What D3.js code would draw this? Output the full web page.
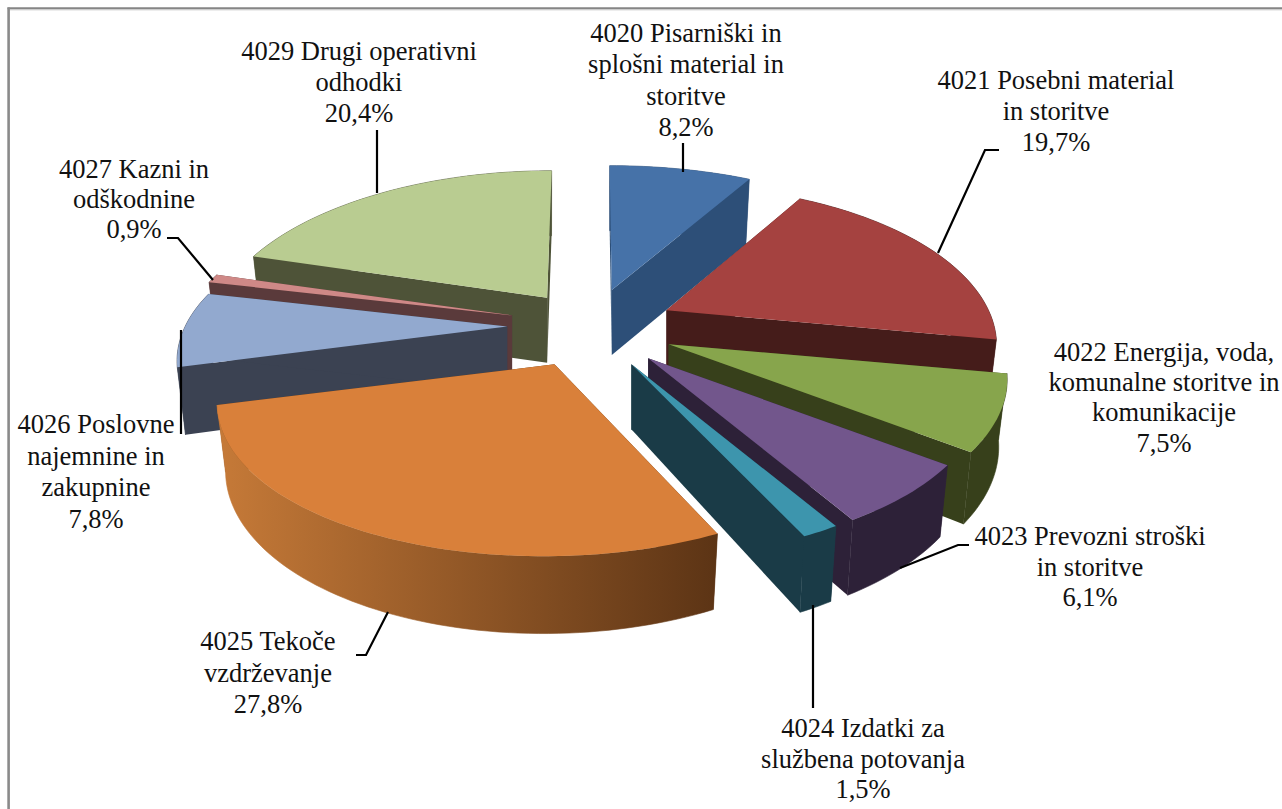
<!DOCTYPE html>
<html><head><meta charset="utf-8">
<script src="https://cdn.jsdelivr.net/npm/d3@7"></script>
<style>html,body{margin:0;padding:0;background:#fff;overflow:hidden}svg{display:block}</style>
</head><body><svg id="c" width="1282" height="809"></svg>
<script>
const codes=["4020","4021","4022","4023","4024","4025","4026","4027","4029"];
const labelLines=[
 ["4020 Pisarniški in","splošni material in","storitve"],
 ["4021 Posebni material","in storitve"],
 ["4022 Energija, voda,","komunalne storitve in","komunikacije"],
 ["4023 Prevozni stroški","in storitve"],
 ["4024 Izdatki za","službena potovanja"],
 ["4025 Tekoče","vzdrževanje"],
 ["4026 Poslovne","najemnine in","zakupnine"],
 ["4027 Kazni in","odškodnine"],
 ["4029 Drugi operativni","odhodki"]];
const shares=[8.2,19.7,7.5,6.1,1.5,27.8,7.8,0.9,20.4];
const topColors=["#4672a8","#a54240","#87a54c","#72568c","#3d95ad","#d9803a","#92a9cf","#cf8987","#b9cc91"];
const wallColors=["#2d4f78","#451c1a","#37401b","#2d2138","#1a3b47","#5f3616","#3b4252","#5a3a3b","#4e5338"];
const rimShades=[["#2d4f78","#2d4f78"],["#451c1a","#451c1a"],["#37401b","#37401b"],["#2d2138","#2d2138"],["#1a3b47","#1a3b47"],["#c67a38","#5c3415"],["#3b4252","#3b4252"],["#5a3a3b","#5a3a3b"],["#4e5338","#4e5338"]];
const pull=[0.25,0.25,0.27,0.27,0.27,0.27,0.25,0.25,0.25];
const drawOrder=[0,8,1,7,6,2,3,4,5];
const shiftX=[2,4,-4,-3,-2,4,-1,0,4];
const shiftY=[0,1,2,1,1,0,1,0,2];
const lean=[12,0,0,0,0,-40,0,0,-25];
const radiusScale=[1.03,0.985,1.01,1,1,1,0.985,1,1];
const squash=[0.97,1.02,1,1,1,0.985,1,1,1.02];
const labelAnchor=[[686,42],[1056,89],[1164,361],[1090,545],[863,737],[268,650],[96,433],[134,178],[359,60]];
const labelSpacing=[31.4,31,30.2,30.5,30.5,31.5,31.5,30,31];
const leaders=[[[683,143],[683,172]],[[999,150],[985,150],[938,253]],[],[[969,545],[958,545],[900,568]],[[813,708],[813,605]],[[356,655],[366,655],[388,612]],[[181,434],[181,330]],[[167,238],[178,238],[213,280]],[[377,130],[377,193]]];

const svg=d3.select("#c");
const cx=590,cy=325,R=327,Ry=152,k=0.22,h=65;
const pie=d3.pie().sort(null).value(d=>d)(shares);
const sc=Y=>1/(1+k*Y);
function apex(i){const m=(pie[i].startAngle+pie[i].endAngle)/2,e=pull[i],X=e*Math.sin(m),Y=e*Math.cos(m),s=sc(Y);return [cx+R*X*s+shiftX[i],cy-Ry*Y*s+shiftY[i]];}
function rel(t,i){const X=Math.sin(t),Y=Math.cos(t),s=sc(Y),q=radiusScale[i];return [q*R*X*s+lean[i]*(s-1),q*squash[i]*(-Ry)*Y*s];}
const lineGen=d3.line();
const defs=svg.append("defs");
const bot=(p,a)=>[a[0]+(p[0]-a[0])*0.975,p[1]+h*(1+0.15*Math.max(0,p[1]-a[1])/Ry)];

svg.append("line").attr("x1",7.5).attr("x2",1282).attr("y1",8.3).attr("y2",8.3).attr("stroke","#858585").attr("stroke-width",2);
svg.append("line").attr("x1",9).attr("x2",1282).attr("y1",9.8).attr("y2",9.8).attr("stroke","#c4c4c4").attr("stroke-width",1);
svg.append("line").attr("x1",8.6).attr("x2",8.6).attr("y1",7.5).attr("y2",809).attr("stroke","#8a8a8a").attr("stroke-width",2.6);

drawOrder.forEach(i=>{
 const p=pie[i],a=apex(i),g=svg.append("g").attr("class","slice");
 const n=Math.max(6,Math.ceil((p.endAngle-p.startAngle)*40));
 const rim=d3.range(n+1).map(j=>{const t=p.startAngle+(p.endAngle-p.startAngle)*j/n,r=rel(t,i);return [a[0]+r[0],a[1]+r[1]];});
 const aB=[a[0],a[1]+h];
 const wall=pt=>[pt,a,aB,bot(pt,a)];
 g.append("path").attr("d",lineGen(wall(rim[0]))+"Z").attr("fill",wallColors[i]);
 g.append("path").attr("d",lineGen(wall(rim[n]))+"Z").attr("fill",wallColors[i]);
 const id="rim"+i;
 const xs=rim.map(d=>d[0]);
 const gr=defs.append("linearGradient").attr("id",id).attr("gradientUnits","userSpaceOnUse")
   .attr("x1",d3.min(xs)).attr("x2",d3.max(xs)).attr("y1",0).attr("y2",0);
 gr.append("stop").attr("offset",0).attr("stop-color",rimShades[i][0]);
 gr.append("stop").attr("offset",1).attr("stop-color",rimShades[i][1]);
 g.append("path").attr("d",lineGen(rim.concat(rim.map(d=>bot(d,a)).reverse()))+"Z").attr("fill",`url(#${id})`).attr("stroke",`url(#${id})`).attr("stroke-width",0.6);
 g.append("path").attr("d",lineGen([a].concat(rim))+"Z").attr("fill",topColors[i]);
});

const fmt=v=>v.toFixed(1).replace(".",",")+"%";
codes.forEach((c,i)=>{
 const pts=leaders[i];
 if(pts.length) svg.append("path").attr("d",lineGen(pts)).attr("fill","none").attr("stroke","#000").attr("stroke-width",2.2);
 const lines=labelLines[i].concat([fmt(shares[i])]);
 const t=svg.append("text").attr("text-anchor","middle").attr("font-family","'Liberation Serif'").attr("font-size",26.5).attr("fill","#111");
 lines.forEach((l,j)=>t.append("tspan").attr("x",labelAnchor[i][0]).attr("y",labelAnchor[i][1]+j*labelSpacing[i]).text(l));
});
</script></body></html>
